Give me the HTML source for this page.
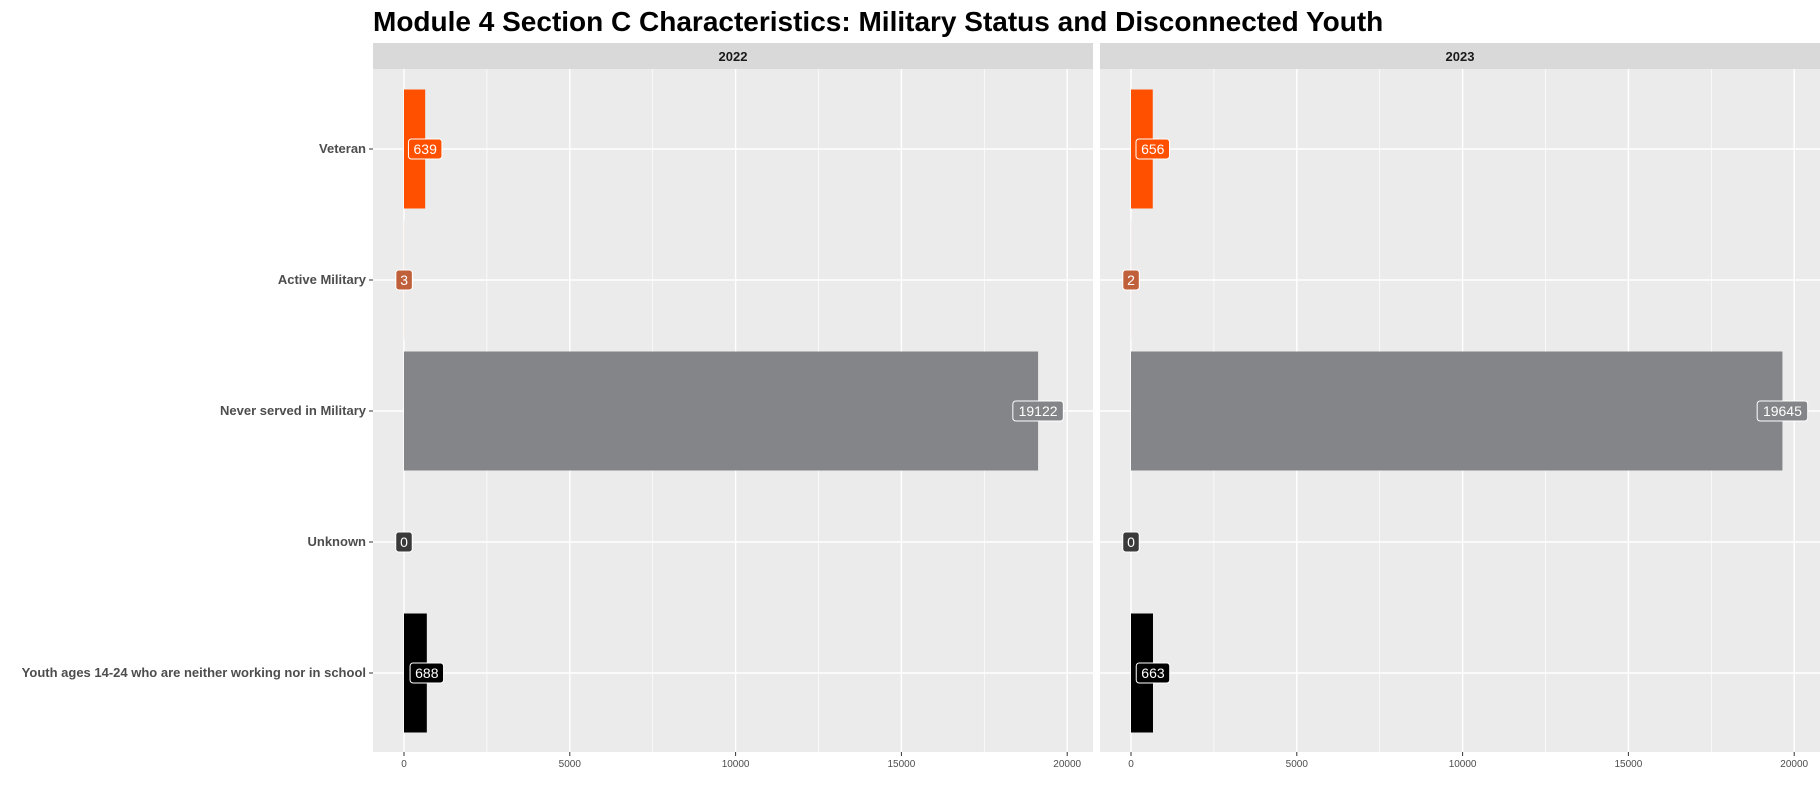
<!DOCTYPE html>
<html><head><meta charset="utf-8"><style>
body{margin:0;background:#fff;}
svg{display:block;font-family:"Liberation Sans",sans-serif;}
</style></head><body>
<svg id="chart" width="1820" height="789">
<text x="373" y="31" font-size="28" font-weight="bold" fill="#000">Module 4 Section C Characteristics: Military Status and Disconnected Youth</text>
</svg>
<script>
const categories = ["Veteran","Active Military","Never served in Military","Unknown","Youth ages 14-24 who are neither working nor in school"];
const years = ["2022","2023"];
const values2022 = [639,3,19122,0,688];
const values2023 = [656,2,19645,0,663];
const ticks = [0,5000,10000,15000,20000];
const colors = ["#FF5000","#C0603A","#848589","#3A3A3A","#000000"];
const svg = document.getElementById('chart');
const NS = "http://www.w3.org/2000/svg";
function mk(t, a, p){const e=document.createElementNS(NS,t);for(const k in a)e.setAttribute(k,a[k]);(p||svg).appendChild(e);return e;}
const panelW = 720, panelTop = 69, panelBot = 752, stripTop = 43;
const panelX = [373, 1100];
const pxPer = 165.8/5000;
function xScale(p, v){return panelX[p] + 31 + v*pxPer;}
const catY0 = 149, catStep = 131;
function yScale(i){return catY0 + i*catStep;}
const barH = 119;
const series = [values2022, values2023];
for(let p=0;p<2;p++){
  const g = mk('g',{});
  
  
  mk('rect',{x:panelX[p],y:panelTop,width:panelW,height:panelBot-panelTop,fill:'#EBEBEB'},g);
  const st = mk('rect',{x:panelX[p],y:stripTop,width:panelW,height:panelTop-stripTop,fill:'#D9D9D9'},g);
  
  
  const stt = mk('text',{x:panelX[p]+panelW/2,y:61,'font-size':13,'font-weight':'bold','text-anchor':'middle',fill:'#1a1a1a'},g);
  stt.textContent = years[p];
  
  
  for(let i=0;i<ticks.length-1;i++){
    const xv = xScale(p,(ticks[i]+ticks[i+1])/2);
    mk('line',{x1:xv,x2:xv,y1:panelTop,y2:panelBot,stroke:'#fff','stroke-width':0.7},g);
  }
  ticks.forEach(t=>{
    const xv = xScale(p,t);
    mk('line',{x1:xv,x2:xv,y1:panelTop,y2:panelBot,stroke:'#fff','stroke-width':1.4},g);
    mk('line',{x1:xv,x2:xv,y1:panelBot,y2:panelBot+4,stroke:'#333','stroke-width':1},g);
    const tl = mk('text',{x:xv,y:panelBot+15,'font-size':10,'text-anchor':'middle',fill:'#4d4d4d'},g);
    tl.textContent = t;
    
    
  });
  categories.forEach((c,i)=>{
    const yv = yScale(i);
    mk('line',{x1:panelX[p],x2:panelX[p]+panelW,y1:yv,y2:yv,stroke:'#fff','stroke-width':1.4},g);
  });
  categories.forEach((c,i)=>{
    const v = series[p][i], yv = yScale(i);
    const x0 = xScale(p,0), x1 = xScale(p,v);
    const b = mk('rect',{x:x0,y:yv-barH/2,width:Math.max(0,x1-x0),height:barH,fill:colors[i]},g);
    
    
    const txt = String(v);
    const w = txt.length*8.5+8;
    const lb = mk('rect',{x:x1-w/2,y:yv-10,width:w,height:20,rx:3,fill:colors[i],stroke:'#fff','stroke-width':1},g);
    
    
    const lt = mk('text',{x:x1,y:yv+5,'font-size':14,'text-anchor':'middle',fill:'#fff'},g);
    lt.textContent = txt;
    
    
  });
}
categories.forEach((c,i)=>{
  const yv = yScale(i);
  mk('line',{x1:369,x2:373,y1:yv,y2:yv,stroke:'#333','stroke-width':1});
  const t = mk('text',{x:366,y:yv+4,'font-size':13,'font-weight':'bold','text-anchor':'end',fill:'#4d4d4d'});
  t.textContent = c;
  
  
});
</script>
</body></html>
